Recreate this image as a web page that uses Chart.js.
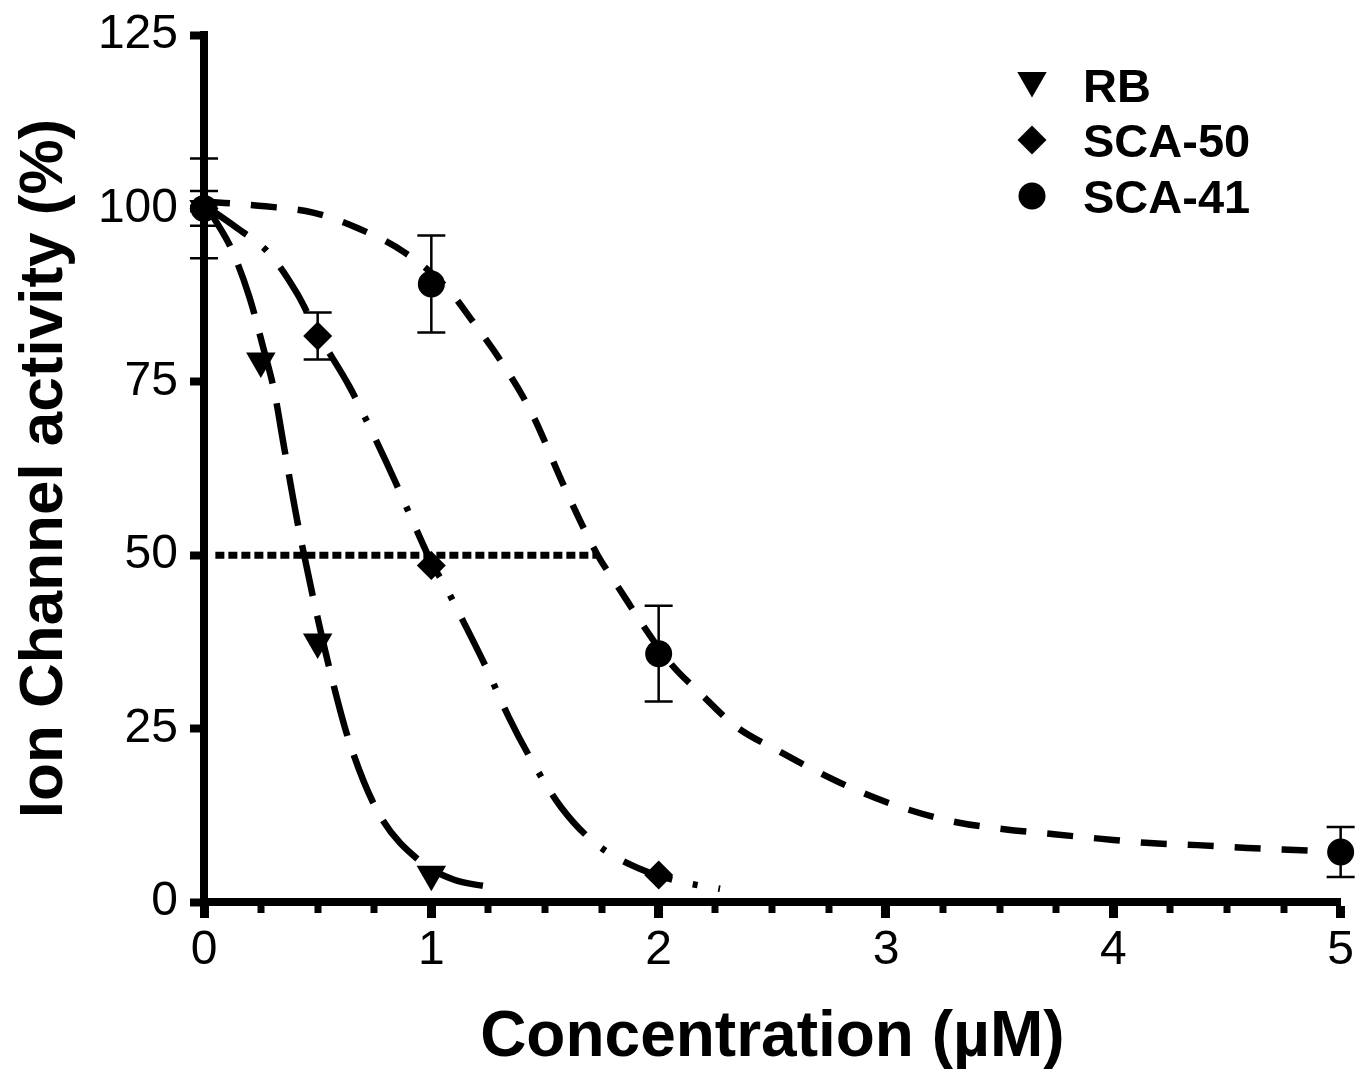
<!DOCTYPE html>
<html>
<head>
<meta charset="utf-8">
<script src="https://cdn.jsdelivr.net/npm/chart.js@4.4.1/dist/chart.umd.min.js"></script>
<style>
  html, body { margin: 0; padding: 0; background: #fff; }
  #wrap { width: 1358px; height: 1084px; position: relative; }
</style>
</head>
<body>
<div id="wrap"><canvas id="chart"></canvas></div>
<script>
'use strict';

var FONT = '"Liberation Sans", Arial, sans-serif';

var seriesNames = ['RB', 'SCA-50', 'SCA-41'];

// measured points, mean and error
var rbConc = [0, 0.25, 0.5, 1];
var rbActivity = [100, 78, 37.5, 4];
var rbErr = [0, 0, 0, 0];

var sca50Conc = [0, 0.5, 1, 2];
var sca50Activity = [100, 81.6, 48.5, 3.9];
var sca50Err = [2.5, 3.4, 0, 0];

var sca41Conc = [0, 1, 2, 5];
var sca41Activity = [100, 89.1, 35.8, 7.2];
var sca41Err = [7.2, 7, 6.9, 3.6];

// fitted curves
var rbFitConc = [0, 0.04, 0.12, 0.2, 0.26, 0.31, 0.35, 0.41, 0.48, 0.56, 0.64, 0.77, 0.95, 1.1, 1.25];
var rbFitActivity = [101, 98.8, 94.2, 87.2, 80, 73.5, 66, 55, 43.9, 32.6, 23, 12.7, 5.9, 3.2, 2.2];

var sca50FitConc = [0, 0.14, 0.29, 0.41, 0.5, 0.64, 0.74, 0.84, 0.93, 1.0, 1.07, 1.14, 1.24, 1.34, 1.44, 1.57, 1.72, 1.93, 2.1, 2.27];
var sca50FitActivity = [100.5, 97.3, 93.4, 87.7, 82, 74.3, 67.7, 60.7, 54, 49, 45, 40.5, 33.9, 26.7, 20.5, 13.7, 8.5, 4.6, 2.9, 1.9];

var sca41FitConc = [0, 0.27, 0.48, 0.68, 0.88, 1.07, 1.18, 1.31, 1.44, 1.59, 1.73, 1.8, 2.05, 2.18, 2.34, 2.52, 2.71, 2.9, 3.1, 3.31, 3.52, 3.73, 3.95, 4.16, 4.37, 4.59, 4.8, 5.0];
var sca41FitActivity = [101, 100.3, 99.4, 97.1, 93.7, 88.5, 83.8, 77.8, 70.6, 59.5, 50.1, 46.5, 34.5, 30.2, 25.3, 21.9, 18.6, 15.7, 13.3, 11.5, 10.5, 9.8, 9.1, 8.5, 8.2, 7.8, 7.5, 7.2];

// IC50 guide line
var halfConc = [0.05, 1.73];
var halfActivity = [50, 50];

var xTickValues = [0, 1, 2, 3, 4, 5];
var xMinorTickValues = [0.25, 0.5, 0.75, 1.25, 1.5, 1.75, 2.25, 2.5, 2.75, 3.25, 3.5, 3.75, 4.25, 4.5, 4.75];
var yTickValues = [0, 25, 50, 75, 100, 125];

function toPoints(xs, ys) {
  return xs.map(function(x, i) { return { x: x, y: ys[i] }; });
}

function markerSet(label, xs, ys, errs, style, radius, rotation) {
  return {
    label: label,
    data: toPoints(xs, ys),
    errors: errs,
    showLine: false,
    pointStyle: style,
    pointRadius: radius,
    pointRotation: rotation,
    pointBackgroundColor: '#000',
    pointBorderColor: '#000',
    pointBorderWidth: 0,
    clip: false
  };
}

function curveSet(xs, ys, dash) {
  return {
    label: '',
    data: toPoints(xs, ys),
    showLine: true,
    borderColor: '#000',
    borderWidth: 6.5,
    borderDash: dash,
    borderCapStyle: 'butt',
    cubicInterpolationMode: 'monotone',
    pointRadius: 0,
    clip: false
  };
}

var markerSets = [
  markerSet(seriesNames[2], sca41Conc, sca41Activity, sca41Err, 'circle', 13.5, 0),
  markerSet(seriesNames[1], sca50Conc, sca50Activity, sca50Err, 'rectRot', 14.5, 0),
  markerSet(seriesNames[0], rbConc, rbActivity, rbErr, 'triangle', 17, 180)
];

var errorBars = {
  id: 'errorBars',
  afterDatasetsDraw: function(chart) {
    var ctx = chart.ctx;
    var xs = chart.scales.x;
    var ys = chart.scales.y;
    ctx.save();
    ctx.strokeStyle = '#000';
    ctx.lineWidth = 2.5;
    chart.data.datasets.forEach(function(ds) {
      if (!ds.errors) return;
      ds.data.forEach(function(p, i) {
        var e = ds.errors[i];
        if (!e) return;
        var x = xs.getPixelForValue(p.x);
        var top = ys.getPixelForValue(p.y + e);
        var bot = ys.getPixelForValue(p.y - e);
        ctx.beginPath();
        ctx.moveTo(x, top); ctx.lineTo(x, bot);
        ctx.moveTo(x - 14, top); ctx.lineTo(x + 14, top);
        ctx.moveTo(x - 14, bot); ctx.lineTo(x + 14, bot);
        ctx.stroke();
      });
    });
    ctx.restore();
  }
};

var minorTicks = {
  id: 'minorTicks',
  afterDraw: function(chart) {
    var ctx = chart.ctx;
    var xs = chart.scales.x;
    var y0 = chart.chartArea.bottom;
    ctx.save();
    ctx.strokeStyle = '#000';
    ctx.lineWidth = 7;
    xMinorTickValues.forEach(function(v) {
      var x = Math.round(xs.getPixelForValue(v));
      ctx.beginPath();
      ctx.moveTo(x, y0);
      ctx.lineTo(x, y0 + 11);
      ctx.stroke();
    });
    ctx.restore();
  }
};

var sideLegend = {
  id: 'sideLegend',
  afterDraw: function(chart) {
    var ctx = chart.ctx;
    var rows = [
      { ds: markerSets[2], my: 80.5, ty: 102 },
      { ds: markerSets[1], my: 140, ty: 157 },
      { ds: markerSets[0], my: 196, ty: 213 }
    ];
    ctx.save();
    ctx.fillStyle = '#000';
    ctx.strokeStyle = '#000';
    ctx.font = 'bold 47px ' + FONT;
    ctx.textBaseline = 'alphabetic';
    ctx.textAlign = 'left';
    rows.forEach(function(r) {
      Chart.helpers.drawPoint(ctx, {
        pointStyle: r.ds.pointStyle,
        radius: r.ds.pointRadius,
        rotation: r.ds.pointRotation,
        borderWidth: 0
      }, 1032, r.my);
      ctx.fillText(r.ds.label, 1083, r.ty);
    });
    ctx.restore();
  }
};

var canvas = document.getElementById('chart');
canvas.width = 1358;
canvas.height = 1084;

new Chart(canvas.getContext('2d'), {
  type: 'scatter',
  data: {
    datasets: markerSets.concat([
      curveSet(rbFitConc, rbFitActivity, [52, 20]),
      curveSet(sca50FitConc, sca50FitActivity, [52, 21, 5, 21]),
      curveSet(sca41FitConc, sca41FitActivity, [26, 21]),
      {
        label: '',
        data: toPoints(halfConc, halfActivity),
        showLine: true,
        borderColor: '#000',
        borderWidth: 7,
        borderDash: [9, 4],
        borderCapStyle: 'butt',
        pointRadius: 0
      }
    ])
  },
  options: {
    responsive: false,
    animation: false,
    devicePixelRatio: 1,
    layout: { padding: { left: 0, right: 16, top: 35, bottom: 0 } },
    plugins: {
      legend: { display: false },
      tooltip: { enabled: false }
    },
    scales: {
      x: {
        type: 'linear',
        min: 0,
        max: 5,
        afterBuildTicks: function(scale) {
          scale.ticks = xTickValues.map(function(v) { return { value: v }; });
        },
        afterFit: function(scale) { scale.height = 182; },
        grid: {
          drawOnChartArea: false,
          drawTicks: true,
          tickLength: 16,
          tickWidth: 9,
          tickColor: '#000'
        },
        border: { display: true, color: '#000', width: 8 },
        ticks: {
          color: '#000',
          padding: 4,
          maxRotation: 0,
          font: { family: FONT, size: 48 }
        },
        title: {
          display: true,
          text: 'Concentration (µM)',
          color: '#000',
          padding: { top: 0, bottom: 7 },
          font: { family: FONT, size: 64, weight: 'bold' }
        }
      },
      y: {
        type: 'linear',
        min: 0,
        max: 125,
        afterBuildTicks: function(scale) {
          scale.ticks = yTickValues.map(function(v) { return { value: v }; });
        },
        afterFit: function(scale) {
          scale.width = 204;
          scale.paddingTop = 0;
          scale.paddingBottom = 0;
        },
        grid: {
          drawOnChartArea: false,
          drawTicks: true,
          tickLength: 14,
          tickWidth: 8,
          tickColor: '#000'
        },
        border: { display: true, color: '#000', width: 8 },
        ticks: {
          color: '#000',
          padding: 12,
          font: { family: FONT, size: 48 }
        },
        title: {
          display: true,
          text: 'Ion Channel activity (%)',
          color: '#000',
          padding: { top: 8, bottom: 0 },
          font: { family: FONT, size: 62, weight: 'bold' }
        }
      }
    }
  },
  plugins: [errorBars, minorTicks, sideLegend]
});
</script>
</body>
</html>
